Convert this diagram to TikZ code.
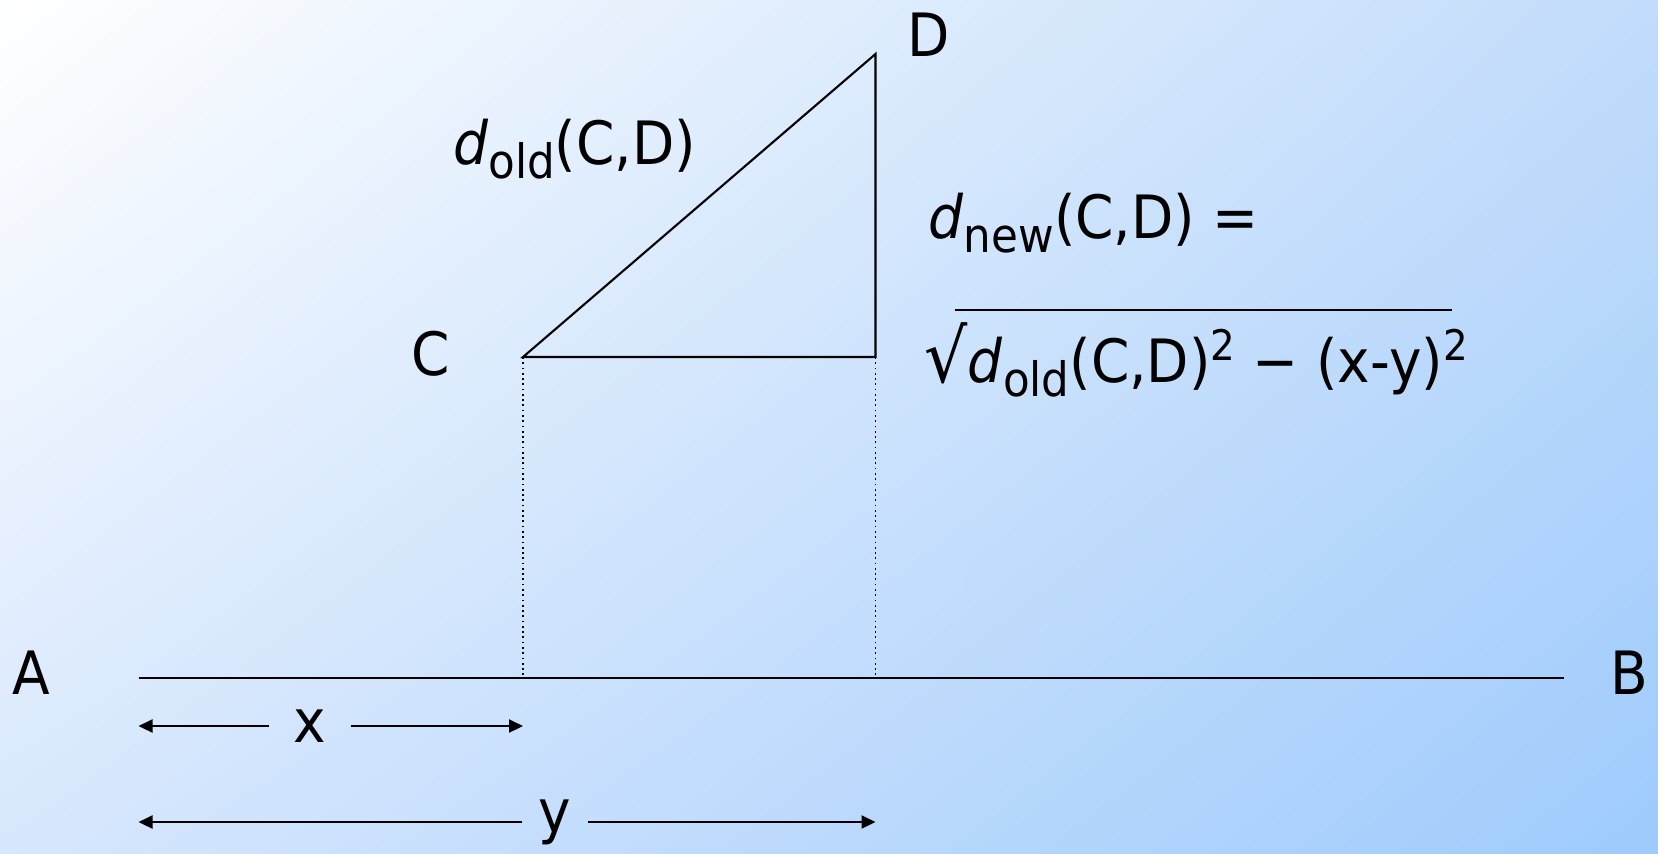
\documentclass[tikz,border=0pt]{standalone}
\usepackage{fontspec}
\setmainfont[FakeStretch=0.92]{DejaVu Sans}
\usepackage{tikz}
\usetikzlibrary{calc,arrows.meta,positioning,shadings}

\definecolor{bgtl}{RGB}{255,255,255}
\definecolor{bgtr}{RGB}{194,220,251}
\definecolor{bgbl}{RGB}{215,231,253}
\definecolor{bgbr}{RGB}{158,203,252}

\newcommand{\lowtxt}[1]{\raisebox{-4pt}{\fontsize{13.5}{15}\selectfont #1}}
\newcommand{\hightxt}[1]{\raisebox{6pt}{\fontsize{12}{13}\selectfont #1}}

\begin{document}
\begin{tikzpicture}[
    lbl/.style={inner sep=0pt,font=\fontsize{17}{20}\selectfont},
    gaplbl/.style={lbl,minimum width=#1},
    dimarrow/.style={-{Triangle[length=0.14cm,width=0.13cm]},line width=0.6pt}
]
\useasboundingbox (0,0) rectangle (16.58,8.53);
\shade[upper left=bgtl,upper right=bgtr,lower left=bgbl,lower right=bgbr] (0,0) rectangle (16.58,8.53);

% base line
\coordinate (a) at (1.385,1.75);
\coordinate (b) at (15.64,1.75);
\coordinate (cf) at (5.23,1.75);
\coordinate (df) at (8.755,1.75);
\draw[line width=0.7pt] (a) -- (b);
\node[lbl] (A) at (0.31,1.80) {A};
\node[lbl] (B) at (16.29,1.80) {B};

% triangle
\coordinate (c) at (5.23,4.96);
\coordinate (d) at (8.755,7.99);
\coordinate (e) at (8.755,4.96);
\draw[line width=0.6pt] (c) -- (d) -- (e) -- cycle;
\draw[densely dotted,line width=0.5pt] (c) -- (cf);
\draw[densely dotted,line width=0.5pt] (e) -- (df);
\node[lbl] (C) at (4.31,4.99) {C};
\node[lbl] (D) at (9.29,8.18) {D};
\node[lbl,anchor=base west] (dold) at (4.525,6.89) {\textit{d}\lowtxt{old}(C,D)};

% formula
\node[lbl,anchor=base west] (dnew) at (9.28,6.15) {\textit{d}\lowtxt{new}(C,D) =};
\node[lbl,anchor=base west] (root) at (9.24,4.71) {{\fontsize{21}{22}\selectfont √}\textit{d}\lowtxt{old}(C,D)\hightxt{2} − (x-y)\hightxt{2}};
\draw[line width=0.6pt] (9.55,5.43) -- (14.52,5.43);

% x and y
\coordinate (xl) at (1.385,1.27);
\coordinate (xr) at (5.23,1.27);
\node[gaplbl=0.80cm] (xlab) at (3.1,1.27) {x};
\draw[dimarrow] (xlab) -- (xl);
\draw[dimarrow] (xlab) -- (xr);

\coordinate (yl) at (1.385,0.31);
\coordinate (yr) at (8.755,0.31);
\node[gaplbl=0.64cm] (ylab) at (5.55,0.31) {y};
\draw[dimarrow] (ylab) -- (yl);
\draw[dimarrow] (ylab) -- (yr);
\end{tikzpicture}
\end{document}
